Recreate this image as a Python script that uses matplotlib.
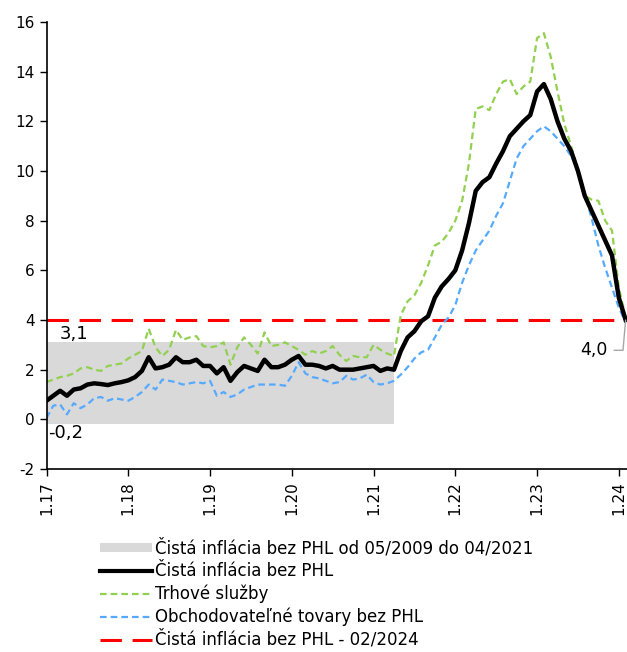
import numpy as np
import matplotlib.pyplot as plt
from matplotlib.patches import Patch
from matplotlib.lines import Line2D

# monthly data, 01/2017 - 02/2024
core = [0.75, 0.95, 1.15, 0.95, 1.2, 1.25, 1.4, 1.45, 1.42, 1.38, 1.45, 1.5,
        1.57, 1.7, 1.95, 2.5, 2.05, 2.1, 2.2, 2.5, 2.3, 2.3, 2.4, 2.15,
        2.15, 1.85, 2.1, 1.55, 1.9, 2.15, 2.05, 1.95, 2.4, 2.1, 2.1, 2.2,
        2.4, 2.55, 2.2, 2.2, 2.15, 2.05, 2.15, 2.0, 2.0, 2.0, 2.05, 2.1,
        2.15, 1.95, 2.05, 2.0, 2.75, 3.3, 3.55, 3.95, 4.15, 4.9, 5.35, 5.65,
        6.0, 6.8, 7.9, 9.2, 9.55, 9.75, 10.3, 10.8, 11.4, 11.7, 12.0, 12.25,
        13.2, 13.5, 12.9, 12.0, 11.3, 10.8, 10.0, 9.0, 8.4, 7.8, 7.2, 6.6,
        4.9, 4.0]

services = [1.5, 1.6, 1.7, 1.75, 1.85, 2.05, 2.1, 2.0, 1.95, 2.15, 2.2, 2.25,
            2.45, 2.6, 2.75, 3.65, 2.9, 2.55, 2.8, 3.6, 3.2, 3.3, 3.35, 2.95,
            2.9, 2.95, 3.1, 2.2, 2.9, 3.3, 3.0, 2.65, 3.5, 2.95, 3.0, 3.1,
            2.95, 2.8, 2.6, 2.75, 2.65, 2.75, 2.95, 2.6, 2.35, 2.55, 2.5, 2.5,
            3.0, 2.8, 2.65, 2.55, 4.2, 4.75, 5.0, 5.5, 6.2, 7.0, 7.15, 7.5,
            8.0, 8.8, 10.3, 12.5, 12.6, 12.45, 13.1, 13.6, 13.7, 13.1, 13.4, 13.6,
            15.35, 15.55, 14.6, 13.2, 11.9, 11.0, 10.0, 9.0, 8.85, 8.8, 8.0, 7.6,
            5.3, 4.1]

goods = [0.05, 0.55, 0.6, 0.2, 0.65, 0.45, 0.6, 0.85, 0.9, 0.75, 0.85, 0.8,
         0.75, 0.9, 1.1, 1.4, 1.2, 1.6, 1.55, 1.5, 1.4, 1.45, 1.5, 1.45,
         1.55, 0.95, 1.1, 0.9, 1.0, 1.2, 1.3, 1.4, 1.4, 1.4, 1.4, 1.35,
         1.75, 2.3, 1.85, 1.7, 1.65, 1.55, 1.45, 1.5, 1.75, 1.6, 1.65, 1.8,
         1.5, 1.4, 1.45, 1.55, 1.8, 2.1, 2.45, 2.7, 2.8, 3.3, 3.8, 4.1,
         4.6, 5.5, 6.2, 6.8, 7.2, 7.6, 8.2, 8.7, 9.6, 10.5, 11.0, 11.3,
         11.6, 11.8, 11.6, 11.3, 11.0, 10.6, 10.1, 9.1, 8.1, 7.0, 6.1, 5.3,
         4.5, 3.9]

band_low, band_high = -0.2, 3.1
band_months = 52  # 01/2017 - 04/2021
tick_labels = ['1.17', '1.18', '1.19', '1.20', '1.21', '1.22', '1.23', '1.24']

plt.rcParams['font.family'] = 'DejaVu Sans'
plt.rcParams['font.size'] = 11
plt.rcParams['axes.unicode_minus'] = False

x = np.arange(len(core))
latest = core[-1]

fig = plt.figure(figsize=(6.27, 6.52), dpi=100)
ax = fig.add_axes([46.5 / 627, 1 - 469 / 652, 1 - 46.5 / 627, (469 - 22) / 652])

ax.fill_between(x[:band_months], band_low, band_high, color='#D9D9D9', lw=0)
ax.plot(x, [latest] * len(x), color='#FF0000', lw=2.2, dashes=(7, 3.5))
ax.plot(x, goods, color='#55AAFF', lw=1.6, dashes=(3, 1.8))
ax.plot(x, services, color='#92D050', lw=1.6, dashes=(3, 1.8))
ax.plot(x, core, color='black', lw=3.2, solid_joinstyle='round')

ax.text(1.9, 3.45, '3,1', ha='left', va='center', fontsize=13)
ax.text(0.2, -0.56, '-0,2', ha='left', va='center', fontsize=13)
ax.annotate('4,0', xy=(x[-1], latest), xytext=(82.3, 2.78), ha='right', va='center',
            fontsize=12.5,
            arrowprops=dict(arrowstyle='-', color='#A6A6A6', lw=1,
                            shrinkA=3, shrinkB=0,
                            connectionstyle='angle,angleA=0,angleB=85,rad=0'))

ax.set_xlim(0, 85.2)
ax.set_ylim(-2, 16)
ax.set_yticks(range(-2, 17, 2))
ax.set_xticks(x[::12])
ax.set_xticklabels(tick_labels, rotation=90)
ax.tick_params(direction='out', length=5, width=1, colors='black', labelsize=11)
for s in ['top', 'right']:
    ax.spines[s].set_visible(False)
for s in ['left', 'bottom']:
    ax.spines[s].set_linewidth(1.2)

handles = [Patch(facecolor='#D9D9D9', edgecolor='none'),
           Line2D([], [], color='black', lw=3),
           Line2D([], [], color='#92D050', lw=1.6, dashes=(3, 1.8)),
           Line2D([], [], color='#55AAFF', lw=1.6, dashes=(3, 1.8)),
           Line2D([], [], color='#FF0000', lw=2.2, dashes=(7, 3.5))]
labels = ['Čistá inflácia bez PHL od 05/2009 do 04/2021',
          'Čistá inflácia bez PHL',
          'Trhové služby',
          'Obchodovateľné tovary bez PHL',
          'Čistá inflácia bez PHL - 02/2024']
fig.legend(handles, labels, loc='upper left', bbox_to_anchor=(100 / 627, 1 - 539 / 652),
           frameon=False, fontsize=12, handlelength=3.1, handleheight=0.5,
           handletextpad=0.18, labelspacing=0.27, borderpad=0, borderaxespad=0)

fig.savefig('out.png', dpi=100)
